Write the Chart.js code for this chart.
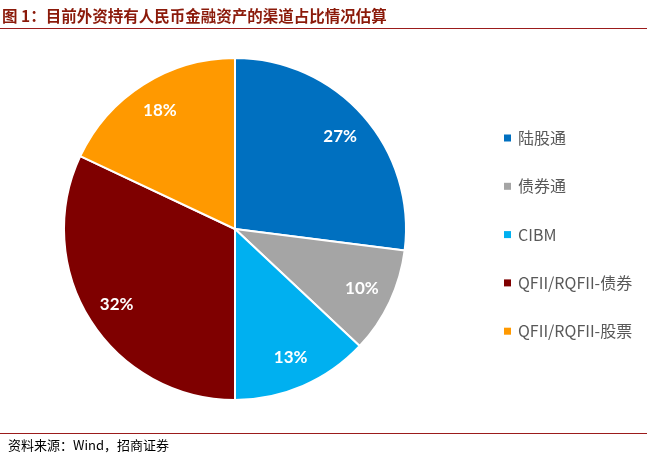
<!DOCTYPE html>
<html>
<head>
<meta charset="utf-8">
<script src="https://cdn.jsdelivr.net/npm/chart.js@4.4.1/dist/chart.umd.min.js"></script>
<style>
  html, body { margin: 0; padding: 0; background: #fff; }
  #wrap { position: relative; width: 647px; height: 455px; overflow: hidden; }
  #title { position: absolute; left: 2px; top: 4px; font-family: "Noto Sans CJK SC", sans-serif; font-weight: bold; font-size: 15.5px; color: #8B1A0A; white-space: nowrap; }
  #tline { position: absolute; left: 0; top: 28px; width: 647px; height: 1px; background: #9B1B1B; }
  #fline { position: absolute; left: 0; top: 433px; width: 647px; height: 1px; background: #9B1B1B; }
  #footer { position: absolute; left: 8px; top: 435px; font-family: "Noto Sans CJK SC", sans-serif; font-size: 13px; color: #000; white-space: nowrap; }
  canvas { position: absolute; left: 0; top: 0; }
</style>
</head>
<body>
<div id="wrap">
  <canvas id="c" width="647" height="455"></canvas>
  <div id="title">图 1：目前外资持有人民币金融资产的渠道占比情况估算</div>
  <div id="tline"></div>
  <div id="fline"></div>
  <div id="footer">资料来源：Wind，招商证券</div>
</div>
<script>
const categories = ["陆股通", "债券通", "CIBM", "QFII/RQFII-债券", "QFII/RQFII-股票"];
const shares = [27, 10, 13, 32, 18];
const sliceColors = ["#0070C0", "#A5A5A5", "#00B0F0", "#7F0000", "#FF9900"];

const labelPlugin = {
  id: 'sliceLabels',
  afterDatasetsDraw(chart) {
    const ctx = chart.ctx;
    const meta = chart.getDatasetMeta(0);
    ctx.save();
    ctx.font = 'bold 17px Lato, "Open Sans", sans-serif';
    ctx.fillStyle = '#FFFFFF';
    ctx.textAlign = 'center';
    ctx.textBaseline = 'middle';
    meta.data.forEach((arc, i) => {
      const mid = (arc.startAngle + arc.endAngle) / 2;
      const r = arc.outerRadius * 0.82;
      const x = arc.x + Math.cos(mid) * r;
      const y = arc.y + Math.sin(mid) * r;
      ctx.fillText(shares[i] + '%', x, y);
    });
    ctx.restore();
  }
};

const legendPlugin = {
  id: 'sideLegend',
  afterDraw(chart) {
    const ctx = chart.ctx;
    ctx.save();
    ctx.font = '16px "Noto Sans CJK SC", sans-serif';
    ctx.textBaseline = 'middle';
    ctx.textAlign = 'left';
    categories.forEach((name, i) => {
      const y = 138 + i * 48.3;
      ctx.fillStyle = sliceColors[i];
      ctx.fillRect(504, y - 3.5, 7, 7);
      ctx.fillStyle = '#595959';
      ctx.fillText(name, 518, y);
    });
    ctx.restore();
  }
};

new Chart(document.getElementById('c'), {
  type: 'pie',
  data: {
    labels: categories,
    datasets: [{
      data: shares,
      backgroundColor: sliceColors,
      borderColor: '#FFFFFF',
      borderWidth: 2
    }]
  },
  options: {
    responsive: false,
    animation: false,
    layout: { padding: { left: 63, top: 57, right: 240, bottom: 54 } },
    plugins: {
      legend: { display: false },
      tooltip: { enabled: false },
      title: { display: false }
    }
  },
  plugins: [labelPlugin, legendPlugin]
});
</script>
</body>
</html>
